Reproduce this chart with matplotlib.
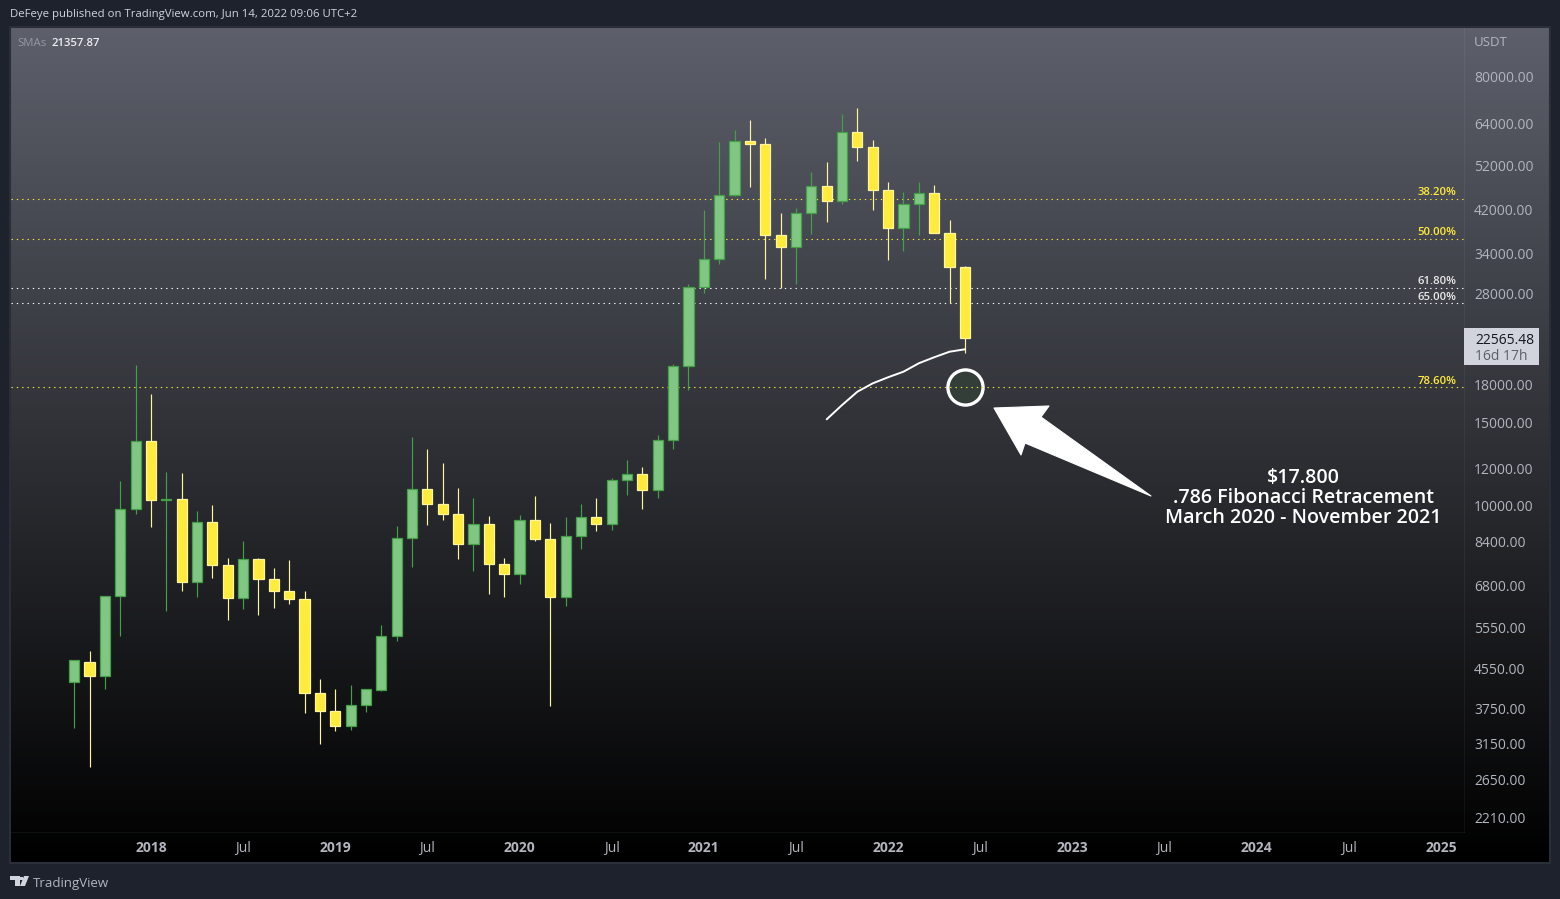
import numpy as np
import matplotlib
matplotlib.use("Agg")
import matplotlib.pyplot as plt
from matplotlib.patches import Polygon, Rectangle

# ---- data: monthly BTC/USDT candles, Aug 2017 .. Jun 2022 ----
opens = [4261, 4689, 4378, 6463, 9837, 13715, 10285, 10325, 6922, 9246, 7500, 6391,
         7735, 7011, 6626, 6369, 4041, 3701, 3434, 3814, 4102, 5320, 8555, 10854,
         10080, 9588, 8289, 9140, 7540, 7195, 9352, 8523, 6412, 8620, 9448, 9138,
         11335, 11649, 10776, 13791, 19698, 28923, 33092, 45134, 58739, 57697, 37253,
         35045, 41461, 47100, 43820, 61300, 56950, 46216, 38466, 43160, 45510, 37630, 31801]
highs = [4745, 4939, 6470, 11300, 19798, 17176, 11786, 11710, 9759, 10020, 7750, 8450,
         7750, 7410, 7680, 6615, 4312, 4120, 4199, 4121, 5600, 9074, 13970, 13147,
         12325, 10905, 10370, 9529, 7750, 9575, 10500, 9188, 9460, 10067, 10380, 11444,
         12468, 12050, 14100, 19863, 29300, 41950, 58352, 61844, 64854, 59500, 41330,
         42448, 50500, 52920, 67000, 69000, 59053, 47990, 45821, 48189, 47444, 40023, 31982]
lows = [3400, 2817, 4110, 5325, 9600, 9035, 6000, 6600, 6425, 7040, 5755, 6070,
        5880, 6100, 6205, 3652, 3156, 3349, 3373, 3670, 4067, 5178, 7444, 9111,
        9320, 7710, 7300, 6515, 6435, 6834, 8445, 3782, 6150, 8117, 8833, 8893,
        10518, 9825, 10374, 13195, 17572, 28130, 32296, 44950, 46930, 30000, 28805,
        29278, 37332, 39600, 43283, 53256, 42000, 32917, 34322, 37155, 37578, 26700, 20970]
closes = [4724, 4378, 6463, 9838, 13716, 10285, 10326, 6923, 9246, 7494, 6391, 7730,
          7011, 6626, 6371, 4041, 3702, 3434, 3813, 4103, 5320, 8555, 10854, 10080,
          9588, 8289, 9140, 7541, 7195, 9352, 8523, 6410, 8620, 9448, 9138, 11335,
          11649, 10776, 13791, 19698, 28923, 33092, 45135, 58740, 57694, 37253, 35045,
          41461, 47100, 43824, 61299, 56950, 46216, 38466, 43160, 45510, 37630, 31801, 22565.48]

sma_start = 49  # candle index of the first point of the visible SMA section
sma_values = [15210, 16300, 17390, 18110, 18650, 19160, 19960, 20550, 21110, 21357.87]

fib_levels = [44230, 36420, 28710, 26690, 17760]
fib_labels = ["38.20%", "50.00%", "61.80%", "65.00%", "78.60%"]
fib_colors = ["#ffeb3b", "#ffeb3b", "#ffffff", "#ffffff", "#ffeb3b"]

price_ticks = [80000, 64000, 52000, 42000, 34000, 28000, 18000, 15000, 12000, 10000,
               8400, 6800, 5550, 4550, 3750, 3150, 2650, 2210]
time_ticks = [5, 11, 17, 23, 29, 35, 41, 47, 53, 59, 65, 71, 77, 83, 89]
time_labels = ["2018", "Jul", "2019", "Jul", "2020", "Jul", "2021", "Jul", "2022", "Jul",
               "2023", "Jul", "2024", "Jul", "2025"]
last_price = "22565.48"
countdown = "16d 17h"

# ---- styles ----
W, H = 1560, 899
FONT = ["Open Sans", "DejaVu Sans"]
plt.rcParams["font.family"] = FONT
PAGE = "#1e222d"
UP_FILL, UP_EDGE = "#81c784", "#43a047"
DN_FILL, DN_EDGE = "#ffeb3b", "#fff59d"
TXT = "#b2b5be"

def px_axes(l, t, r, b, **kw):
    return fig.add_axes([l / W, 1 - b / H, (r - l) / W, (b - t) / H], **kw)

def fx(x, y):
    return x / W, 1 - y / H

fig = plt.figure(figsize=(W / 100, H / 100), dpi=100, facecolor=PAGE)

# panel with vertical gradient
bg = px_axes(10, 27, 1550, 863, zorder=0)
grad = np.linspace(1, 0, 256).reshape(-1, 1, 1) * np.array([0x5d, 0x60, 0x6b]).reshape(1, 1, 3) / 255
bg.imshow(grad, aspect="auto", extent=[0, 1, 0, 1], origin="upper")
bg.set_xticks([]); bg.set_yticks([])
for s in bg.spines.values():
    s.set_color("#2a2e39"); s.set_linewidth(1.5)

# main chart: pixel scale calibrated from the axis ticks
PX0, PXM = 74.2, 15.357      # x pixel of first candle, px per month
Y80, PXL = 77.0, 206.2       # y pixel of 80000, px per ln unit
L, R, T, B = 11, 1464, 28, 832
ax = px_axes(L, T, R, B, zorder=1)
ax.patch.set_alpha(0)
ax.set_yscale("log")
ax.set_xlim((L - PX0) / PXM, (R - PX0) / PXM)
ax.set_ylim(80000 * np.exp(-(B - Y80) / PXL), 80000 * np.exp(-(T - Y80) / PXL))
for name, s in ax.spines.items():
    s.set_visible(name in ("right", "bottom"))
    s.set_color((1, 1, 1, 0.05)); s.set_linewidth(0.8)

x = np.arange(len(opens))
opens_a, highs_a, lows_a, closes_a = map(np.array, (opens, highs, lows, closes))
up = closes_a >= opens_a
ax.vlines(x[up], lows_a[up], highs_a[up], color=UP_EDGE, lw=0.85, zorder=3)
ax.vlines(x[~up], lows_a[~up], highs_a[~up], color=DN_EDGE, lw=0.85, zorder=3)
ax.bar(x[up], (closes_a - opens_a)[up], bottom=opens_a[up], width=0.66,
       facecolor=UP_FILL, edgecolor=UP_EDGE, linewidth=0.9, zorder=4)
ax.bar(x[~up], (opens_a - closes_a)[~up], bottom=closes_a[~up], width=0.66,
       facecolor=DN_FILL, edgecolor=DN_EDGE, linewidth=0.9, zorder=4)

# SMA
ax.plot(sma_start + np.arange(len(sma_values)), sma_values, color="#ffffff", lw=1.4, zorder=5,
        solid_capstyle="round")

# target circle
ax.scatter([len(opens) - 1], [fib_levels[-1]], s=640, facecolor="#343e38", edgecolor="#ffffff",
           linewidth=2.4, zorder=2)

# Fibonacci levels
for lev, lab, col in zip(fib_levels, fib_labels, fib_colors):
    ax.axhline(lev, color=col, lw=0.8, linestyle=(0, (1.2, 3.6)), zorder=2.5)
    ax.annotate(lab, xy=(1, lev), xycoords=("axes fraction", "data"), xytext=(-5.5, 0.6),
                textcoords="offset points", ha="right", va="bottom",
                color=col if col != "#ffffff" else "#e8e8e8",
                fontsize=8.2, fontweight="semibold", zorder=6)

# axes ticks
ax.yaxis.tick_right()
ax.set_yticks(price_ticks)
ax.set_yticklabels([f"{p:.2f}" for p in price_ticks])
ax.minorticks_off()
ax.tick_params(axis="y", length=0, pad=7.2, labelsize=10, labelcolor=TXT)
ax.set_xticks(time_ticks)
ax.set_xticklabels(time_labels)
ax.tick_params(axis="x", length=0, pad=6.5, labelsize=10, labelcolor=TXT)
for lab in ax.get_xticklabels():
    if lab.get_text() != "Jul":
        lab.set_fontweight("bold")

# last price tag
tag = Rectangle(fx(1464, 365), 75 / W, 37 / H, transform=fig.transFigure, facecolor="#d1d4dc",
                edgecolor="none", zorder=5)
fig.add_artist(tag)
fig.text(*fx(1475, 340.5), last_price, color="#131722", fontsize=10, va="center", zorder=6)
fig.text(*fx(1475, 356.5), countdown, color="#5d606b", fontsize=10, va="center", zorder=6)

# arrow annotation
arrow_px = [(994, 408), (1049, 406), (1041, 417), (1151, 496), (1025, 443), (1021, 455)]
fig.add_artist(Polygon([fx(*p) for p in arrow_px], closed=True, transform=fig.transFigure,
                       facecolor="#ffffff", edgecolor="#ffffff", linewidth=0.8, joinstyle="round", zorder=7))

# annotation text
for txt, y in [("$17.800", 478), (".786 Fibonacci Retracement", 498), ("March 2020 - November 2021", 518)]:
    fig.text(*fx(1303.5, y), txt, color="#ffffff", fontsize=14.1, fontweight="semibold",
             ha="center", va="center", zorder=7)

# header, legend, footer
fig.text(*fx(10, 15), "DeFeye published on TradingView.com, Jun 14, 2022 09:06 UTC+2",
         color="#d1d4dc", fontsize=8.2, va="center")
fig.text(*fx(17, 43.5), "SMAs", color="#9598a1", fontsize=8.2, va="center", zorder=6)
fig.text(*fx(51, 43.5), "21357.87", color="#eceef2", fontsize=8.2, fontweight="semibold", va="center", zorder=6)
fig.text(*fx(1474, 43), "USDT", color=TXT, fontsize=9.5, va="center", zorder=6)
fig.text(*fx(33, 883), "TradingView", color="#b2b5be", fontsize=9.5, va="center")

# TradingView logo
LOGO = "#d1d4dc"
fig.add_artist(Polygon([fx(*p) for p in [(10, 876), (19.5, 876), (19.5, 886), (15, 886), (15, 880), (10, 880)]],
                       closed=True, transform=fig.transFigure, facecolor=LOGO, edgecolor="none"))
fig.add_artist(Polygon([fx(*p) for p in [(24, 876), (29, 876), (25, 886), (20, 886)]],
                       closed=True, transform=fig.transFigure, facecolor=LOGO, edgecolor="none"))
fig.add_artist(Polygon([fx(*p) for p in [(20, 876.5), (23, 876.5), (23, 880), (20, 880)]],
                       closed=True, transform=fig.transFigure, facecolor=LOGO, edgecolor="none"))

fig.savefig("out.png", dpi=100, facecolor=PAGE)
